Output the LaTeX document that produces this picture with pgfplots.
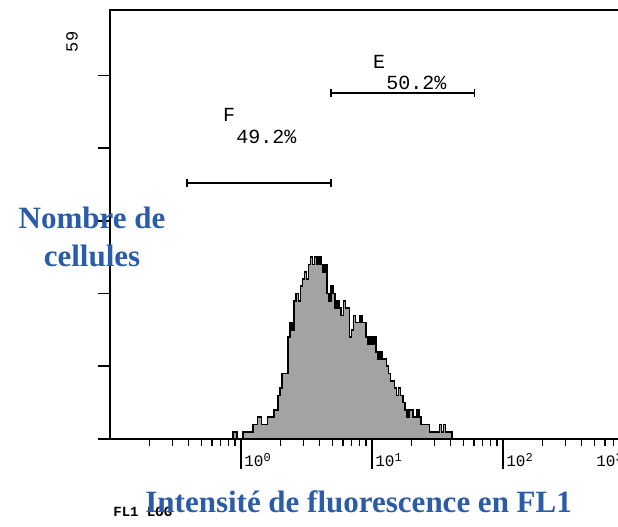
\documentclass[border=0pt]{standalone}
\usepackage{fontspec}
\setmainfont{Liberation Serif}
\newfontfamily\monof{Liberation Mono}
\usepackage{pgfplots}
\pgfplotsset{compat=1.18}
\usepackage{pgfplotstable}

\definecolor{labelblue}{RGB}{42,92,170}
\definecolor{histgrey}{RGB}{163,163,163}

% FL1 histogram: channel (256 channels per decade, 0 = 10^0), event count per bin
\pgfplotstableread{
ch count
-20 0
-16 1
-12 1
-8 0
-4 0
0 0
4 1
8 1
12 1
16 1
20 1
24 2
28 2
32 3
36 3
40 2
44 2
48 2
52 3
56 3
60 3
64 4
68 4
72 6
76 7
80 9
84 9
88 9
92 14
96 16
100 15
104 19
108 20
112 19
116 21
120 22
124 23
128 22
132 24
136 25
140 24
144 25
148 24
152 25
156 24
160 23
164 24
168 20
172 19
176 21
180 20
184 18
188 19
192 18
196 17
200 19
204 18
208 18
212 14
216 15
220 17
224 16
228 16
232 17
236 16
240 16
244 14
248 13
252 14
256 13
260 14
264 12
268 11
272 12
276 11
280 11
284 10
288 9
292 8
296 8
300 7
304 6
308 7
312 6
316 5
320 4
324 3
328 4
332 4
336 3
340 3
344 4
348 3
352 2
356 2
360 2
364 2
368 1
372 1
376 1
380 1
384 1
388 2
392 1
396 2
400 1
404 1
408 1
412 0
416 0
}\flone

\begin{document}
\begin{tikzpicture}
\begin{axis}[
  name=ax,
  scale only axis,
  width=327.5pt, height=214.5pt,
  xmin=-256, xmax=1024, ymin=0, ymax=59,
  axis on top,
  axis line style={line width=1pt},
  tick pos=left, tick align=outside,
  major tick length=15pt, minor tick length=3.5pt,
  xtick={0,256,512},
  xticklabels={10\textsuperscript{0},10\textsuperscript{1},10\textsuperscript{2}},
  minor xtick={-178.94,-133.86,-101.87,-77.06,-56.79,-39.65,-24.81,-11.71,
    77.06,122.14,154.13,178.94,199.21,216.35,231.19,244.29,
    333.06,378.14,410.13,434.94,455.21,472.35,487.19,500.29,
    589.06,634.14,666.13,690.94,711.21,728.35,743.19,756.29,
    845.06,890.14,922.13,946.94,967.21,984.35,999.19,1012.29},
  extra x ticks={768},
  extra x tick labels={10\textsuperscript{3}},
  extra x tick style={xticklabel style={xshift=-20.5pt}},
  xtick style={line width=0.6pt, black},
  xticklabel style={anchor=base west, xshift=1.5pt, yshift=1pt, inner sep=0pt,
    font=\monof\fontsize{8}{9}\selectfont},
  ytick={0,10,20,30,40,50},
  yticklabels={},
  ytick style={/pgfplots/major tick length=6pt, line width=0.8pt, black},
]
\addplot[const plot, fill=histgrey, draw=black, line width=0.8pt]
  table[x=ch, y=count] {\flone} \closedcycle;

% marker gates F and E
\addplot[black, line width=0.7pt, mark=|, mark size=2pt,
  mark options={line width=0.7pt}] coordinates {(-105.5,35.2) (175.9,35.2)};
\addplot[black, line width=0.7pt, mark=|, mark size=2pt,
  mark options={line width=0.7pt}] coordinates {(175.9,47.6) (456.3,47.6)};

\node[anchor=base west, inner sep=0pt, font=\monof\fontsize{10}{12}\selectfont] at (axis cs:-35.8,43.7) {F};
\node[anchor=base west, inner sep=0pt, font=\monof\fontsize{10}{12}\selectfont] at (axis cs:-9.8,40.7) {49.2\%};
\node[anchor=base west, inner sep=0pt, font=\monof\fontsize{10}{12}\selectfont] at (axis cs:257.3,51.0) {E};
\node[anchor=base west, inner sep=0pt, font=\monof\fontsize{10}{12}\selectfont] at (axis cs:283.3,48.0) {50.2\%};
\end{axis}

\node[rotate=90, font=\monof\fontsize{8.5}{10}\selectfont]
  at ([xshift=-19pt, yshift=198.5pt]ax.south west) {59};
\node[anchor=base west, font=\monof\bfseries\fontsize{7}{8}\selectfont, inner sep=0pt]
  at ([xshift=1.5pt, yshift=-39pt]ax.south west) {FL1 LOG};
\node[anchor=base, font=\bfseries\fontsize{15.5}{18}\selectfont, text=labelblue]
  at ([xshift=-9pt, yshift=105pt]ax.south west) {Nombre de};
\node[anchor=base, font=\bfseries\fontsize{15.5}{18}\selectfont, text=labelblue]
  at ([xshift=-9pt, yshift=86pt]ax.south west) {cellules};
\node[anchor=base west, font=\bfseries\fontsize{15.5}{18}\selectfont, text=labelblue, inner sep=0pt]
  at ([xshift=17.5pt, yshift=-37pt]ax.south west) {Intensité de fluorescence en FL1};

\pgfresetboundingbox
\path[use as bounding box] ([xshift=-55pt, yshift=-44pt]ax.south west)
  rectangle ([xshift=254pt, yshift=5pt]ax.north west);
\end{tikzpicture}
\end{document}
